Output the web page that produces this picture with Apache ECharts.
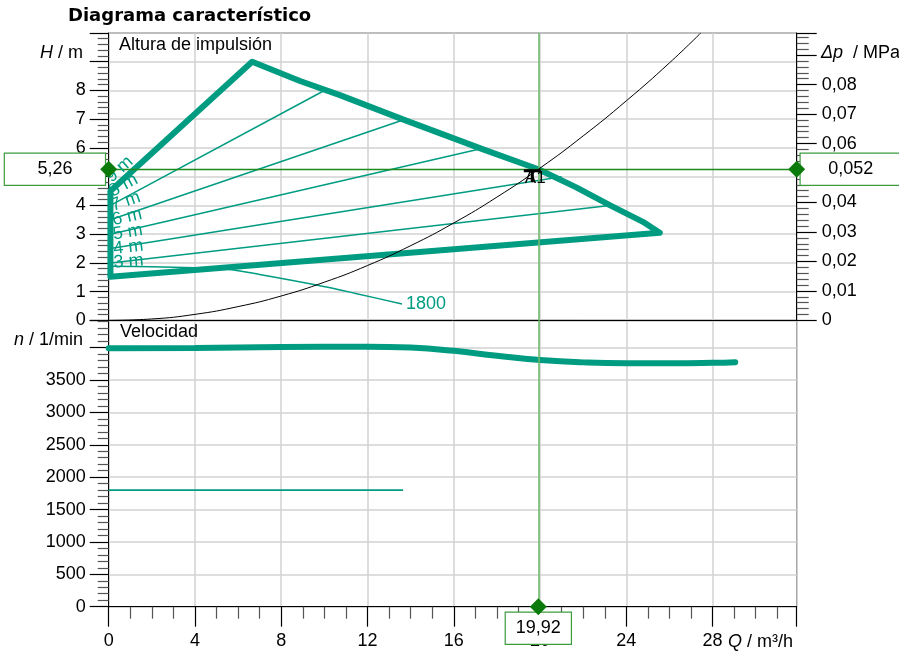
<!DOCTYPE html>
<html><head><meta charset="utf-8">
<script src="https://cdn.jsdelivr.net/npm/echarts@6/dist/echarts.min.js"></script>
<style>html,body{margin:0;padding:0;background:#fff}#c{width:899px;height:654px}</style>
</head><body><div id="c"></div>
<script>
// ---------------- data ----------------
const chartTitle = 'Diagrama característico';
const topPanelTitle = 'Altura de impulsión';
const bottomPanelTitle = 'Velocidad';
const qMax = 31.9, hMax = 10, dpMax = 0.0975, nMax = 4420;

// thick envelope: Δp-v 9 m line, max curve, Δp-v 3 m line
const envQ = [0.08, 0.08, 6.65, 8.87, 10.72, 13.73, 17.36, 19.92, 21.68, 23.23, 24.77, 25.55, 0.08];
const envH = [1.52, 4.50, 9.00, 8.33, 7.84, 6.97, 5.95, 5.26, 4.63, 4.01, 3.43, 3.05, 1.52];

// Δp-v control lines
const dpvNames  = ['3 m', '4 m', '5 m', '6 m', '7 m', '8 m', '9 m'];
const dpvStartQ = 0.08;
const dpvStartH = [1.52, 2.0, 2.5, 3.0, 3.5, 4.0, 4.5];
const dpvEndQ   = [25.55, 23.23, 21.0, 17.4, 13.75, 10.0, 6.65];
const dpvEndH   = [3.05, 4.0, 5.0, 6.0, 7.0, 8.0, 9.0];

// minimum speed curve (1800 1/min)
const minCurveQ = [0.08, 2, 4, 5.5, 7, 9.64, 11.5, 13.6];
const minCurveH = [1.88, 1.87, 1.83, 1.78, 1.60, 1.23, 0.93, 0.57];
const minCurveLabel = '1800';

// system curve
const sysQ = [0, 2, 4, 6, 8, 10, 12, 14, 16, 18, 20, 22, 24, 26, 27.45];
const sysH = [0, 0.05, 0.21, 0.48, 0.85, 1.33, 1.91, 2.60, 3.39, 4.29, 5.30, 6.42, 7.64, 8.96, 10.0];

// operating point
const opQ = 19.92, opH = 5.26;
const opQText = '19,92', opHText = '5,26', opDpText = '0,052', opName = 'A1';

// speed
const velQ = [0, 4, 8, 12, 14, 16, 18, 20, 22, 24, 26, 28, 29.05];
const velN = [3990, 3995, 4008, 4015, 4000, 3950, 3875, 3810, 3772, 3758, 3758, 3765, 3775];
const minSpeedQ = [0, 13.65];
const minSpeedN = [1800, 1800];

// ---------------- chart ----------------
const TEAL = '#009c82';
const GREEN = '#0a7a0a';
const BOXGREEN = '#3c9c3c';
const FONT = '"Liberation Sans", Arial, sans-serif';
const zip = (a, b) => a.map((v, i) => [v, b[i]]);

const GL = 108.7, GR = 899 - 796.7;
const tickStyle = {color: '#000', width: 1.2};
const minorStyle = {color: '#555', width: 1.2};
const splitStyle = {lineStyle: {color: '#d2d2d2', width: 1.5}};
const labelBase = {fontSize: 18, fontFamily: FONT, color: '#000'};

function boxLabel(text, pos, dist, w) {
  return {
    show: true, position: pos, distance: dist,
    formatter: '{a|' + text + '}',
    backgroundColor: '#fff', borderColor: BOXGREEN, borderWidth: 1.2, padding: 0,
    rich: {a: {width: w, height: 31, lineHeight: 31, align: 'center', fontSize: 18, fontFamily: FONT, color: '#000'}}
  };
}

const series = [];
dpvNames.forEach((nm, i) => {
  series.push({
    type: 'line', xAxisIndex: 0, yAxisIndex: 0, showSymbol: false, silent: true,
    data: [[dpvStartQ, dpvStartH[i]], [dpvEndQ[i], dpvEndH[i]]],
    lineStyle: {color: TEAL, width: 1.5}, z: 3
  });
});
series.push({
  type: 'line', xAxisIndex: 0, yAxisIndex: 0, showSymbol: false, silent: true,
  data: zip(minCurveQ, minCurveH), smooth: 0.3,
  lineStyle: {color: TEAL, width: 1.5}, z: 3,
  endLabel: {show: true, formatter: minCurveLabel, color: TEAL, fontSize: 18, fontFamily: FONT, distance: 4}
});
series.push({
  type: 'line', xAxisIndex: 0, yAxisIndex: 0, showSymbol: false, silent: true,
  data: zip(envQ, envH),
  lineStyle: {color: TEAL, width: 6, join: 'round', cap: 'round'}, z: 4
});
series.push({
  type: 'line', xAxisIndex: 0, yAxisIndex: 0, showSymbol: false, silent: true,
  data: zip(sysQ, sysH), smooth: true,
  lineStyle: {color: '#000', width: 1}, z: 5,
  markLine: {
    silent: true, symbol: 'none', animation: false,
    label: {show: false},
    data: [
      {xAxis: opQ, lineStyle: {color: '#6cbb6c', width: 1.6, type: 'solid'}},
      {yAxis: opH, lineStyle: {color: '#1f8a1f', width: 1.4, type: 'solid'}}
    ]
  }
});
series.push({
  id: 'dpvLabels', type: 'scatter', xAxisIndex: 0, yAxisIndex: 0, symbolSize: 0, silent: true, z: 6,
  itemStyle: {opacity: 1},
  data: dpvNames.map((nm, i) => ({value: [dpvStartQ, dpvStartH[i]], name: nm})),
  label: {show: true, formatter: '{b}', position: [4, -5], align: 'left', verticalAlign: 'bottom',
          color: TEAL, fontSize: 18, fontFamily: FONT}
});
// operating point marker
series.push({
  type: 'scatter', xAxisIndex: 0, yAxisIndex: 0, silent: true, z: 8,
  data: [{value: [opQ, opH], name: opName}],
  symbol: 'path://M0,0H17V3H10V13H7V3H0Z', symbolSize: [17, 13], symbolOffset: [-6, 6.5],
  itemStyle: {color: '#000', opacity: 1},
  label: {show: true, formatter: '{b}', position: [1, 1], align: 'left', verticalAlign: 'top',
          color: '#000', fontSize: 17, fontFamily: FONT}
});
// value boxes (upper layer) and diamonds (topmost layer)
series.push({
  type: 'scatter', xAxisIndex: 0, yAxisIndex: 0, silent: true, zlevel: 1, z: 9, clip: false,
  symbolSize: 0, itemStyle: {opacity: 1},
  data: [
    {value: [0, opH], label: boxLabel(opHText, 'left', 3.8, 100)},
    {value: [qMax, opH], label: boxLabel(opDpText, 'right', 4, 100)}
  ]
});
series.push({
  type: 'scatter', xAxisIndex: 0, yAxisIndex: 0, silent: true, zlevel: 2, z: 9, clip: false,
  symbol: 'diamond', symbolSize: 17, itemStyle: {color: GREEN, opacity: 1},
  data: [[0, opH], [qMax, opH]]
});
// bottom panel
series.push({
  type: 'line', xAxisIndex: 1, yAxisIndex: 2, showSymbol: false, silent: true,
  data: zip(velQ, velN), smooth: 0.5,
  lineStyle: {color: TEAL, width: 6, cap: 'round'}, z: 4,
  markLine: {
    silent: true, symbol: 'none', animation: false, label: {show: false},
    data: [{xAxis: opQ, lineStyle: {color: '#6cbb6c', width: 1.6, type: 'solid'}}]
  }
});
series.push({
  type: 'line', xAxisIndex: 1, yAxisIndex: 2, showSymbol: false, silent: true,
  data: zip(minSpeedQ, minSpeedN),
  lineStyle: {color: TEAL, width: 1.6}, z: 3
});
series.push({
  type: 'scatter', xAxisIndex: 1, yAxisIndex: 2, silent: true, zlevel: 1, z: 9, clip: false,
  symbolSize: 0, itemStyle: {opacity: 1},
  data: [{value: [opQ, 0], label: boxLabel(opQText, 'bottom', 6, 65)}]
});
series.push({
  type: 'scatter', xAxisIndex: 1, yAxisIndex: 2, silent: true, zlevel: 2, z: 9, clip: false,
  symbol: 'diamond', symbolSize: 17, itemStyle: {color: GREEN, opacity: 1},
  data: [[opQ, 0]]
});

const option = {
  animation: false,
  backgroundColor: '#fff',
  textStyle: {fontFamily: FONT},
  grid: [
    {left: GL, right: GR, top: 33, height: 287.4, show: true, borderColor: '#000', borderWidth: 1},
    {left: GL, right: GR, top: 320.4, height: 286.3, show: true, borderColor: '#000', borderWidth: 1}
  ],
  xAxis: [
    {gridIndex: 0, type: 'value', min: 0, max: qMax, interval: 4,
     axisLine: {show: true, lineStyle: {color: '#000', width: 1}}, axisTick: {show: false},
     axisLabel: {show: false}, splitLine: Object.assign({show: true}, splitStyle)},
    {gridIndex: 1, type: 'value', min: 0, max: qMax, interval: 4,
     axisLine: {show: true, onZero: false, lineStyle: {color: '#000', width: 1}},
     axisTick: {show: true, length: 20, lineStyle: tickStyle},
     minorTick: {show: true, splitNumber: 4, length: 12, lineStyle: minorStyle},
     axisLabel: Object.assign({margin: 25, formatter: v => (v % 4 === 0 && v <= 28) ? String(v) : ''}, labelBase),
     splitLine: Object.assign({show: true}, splitStyle)}
  ],
  yAxis: [
    {gridIndex: 0, type: 'value', position: 'left', min: 0, max: hMax, interval: 1,
     axisLine: {show: true, lineStyle: {color: '#000', width: 1}},
     axisTick: {show: true, length: 19, lineStyle: tickStyle},
     minorTick: {show: true, splitNumber: 5, length: 11, lineStyle: minorStyle},
     axisLabel: Object.assign({margin: 23, formatter: v => v < 9 ? String(v) : ''}, labelBase),
     splitLine: Object.assign({show: true}, splitStyle)},
    {gridIndex: 0, type: 'value', position: 'right', min: 0, max: dpMax, interval: 0.01,
     axisLine: {show: true, lineStyle: {color: '#000', width: 1}},
     axisTick: {show: true, length: 20, lineStyle: tickStyle},
     minorTick: {show: true, splitNumber: 5, length: 12, lineStyle: minorStyle},
     axisLabel: Object.assign({margin: 25, formatter: v => {
        const k = Math.round(v * 100);
        if (Math.abs(v * 100 - k) > 1e-6 || k > 8) return '';
        return k === 0 ? '0' : v.toFixed(2).replace('.', ',');
     }}, labelBase),
     splitLine: {show: false}},
    {gridIndex: 1, type: 'value', position: 'left', min: 0, max: nMax, interval: 500,
     axisLine: {show: true, lineStyle: {color: '#000', width: 1}},
     axisTick: {show: true, length: 19, lineStyle: tickStyle},
     minorTick: {show: true, splitNumber: 5, length: 11, lineStyle: minorStyle},
     axisLabel: Object.assign({margin: 23, formatter: v => (v % 500 === 0 && v < 4000) ? String(v) : ''}, labelBase),
     splitLine: Object.assign({show: true}, splitStyle)}
  ],
  graphic: [
    {type: 'text', x: 68, y: 16, style: {text: chartTitle, fontFamily: '"DejaVu Sans"', fontWeight: 'bold', fontSize: 18, fill: '#000', align: 'left', verticalAlign: 'middle'}},
    {type: 'text', x: 119, y: 45, z: 10, style: {text: topPanelTitle, fontFamily: FONT, fontSize: 18, fill: '#000', align: 'left', verticalAlign: 'middle'}},
    {type: 'text', x: 120, y: 332, z: 10, style: {text: bottomPanelTitle, fontFamily: FONT, fontSize: 18, fill: '#000', align: 'left', verticalAlign: 'middle'}},
    {type: 'text', x: 83, y: 53, style: {text: '{i|H} / m', rich: {i: {fontStyle: 'italic', fontSize: 18, fontFamily: FONT}}, fontFamily: FONT, fontSize: 18, fill: '#000', align: 'right', verticalAlign: 'middle'}},
    {type: 'text', x: 83, y: 340, style: {text: '{i|n} / 1/min', rich: {i: {fontStyle: 'italic', fontSize: 18, fontFamily: FONT}}, fontFamily: FONT, fontSize: 18, fill: '#000', align: 'right', verticalAlign: 'middle'}},
    {type: 'text', x: 821, y: 53, style: {text: '{i|Δp}  / MPa', rich: {i: {fontStyle: 'italic', fontSize: 18, fontFamily: FONT}}, fontFamily: FONT, fontSize: 18, fill: '#000', align: 'left', verticalAlign: 'middle'}},
    {type: 'text', x: 728, y: 642, style: {text: '{i|Q} / m³/h', rich: {i: {fontStyle: 'italic', fontSize: 18, fontFamily: FONT}}, fontFamily: FONT, fontSize: 18, fill: '#000', align: 'left', verticalAlign: 'middle'}}
  ],
  series: series
};

const chart = echarts.init(document.getElementById('c'), null, {renderer: 'canvas'});
chart.setOption(option);
// rotate Δp-v labels along their lines
const rotData = dpvNames.map((nm, i) => {
  const p0 = chart.convertToPixel({xAxisIndex: 0, yAxisIndex: 0}, [dpvStartQ, dpvStartH[i]]);
  const p1 = chart.convertToPixel({xAxisIndex: 0, yAxisIndex: 0}, [dpvEndQ[i], dpvEndH[i]]);
  const ang = Math.atan2(p0[1] - p1[1], p1[0] - p0[0]) * 180 / Math.PI;
  return {value: [dpvStartQ, dpvStartH[i]], name: nm, label: {rotate: ang}};
});
chart.setOption({series: [{id: 'dpvLabels', data: rotData}]});
</script>
</body></html>
